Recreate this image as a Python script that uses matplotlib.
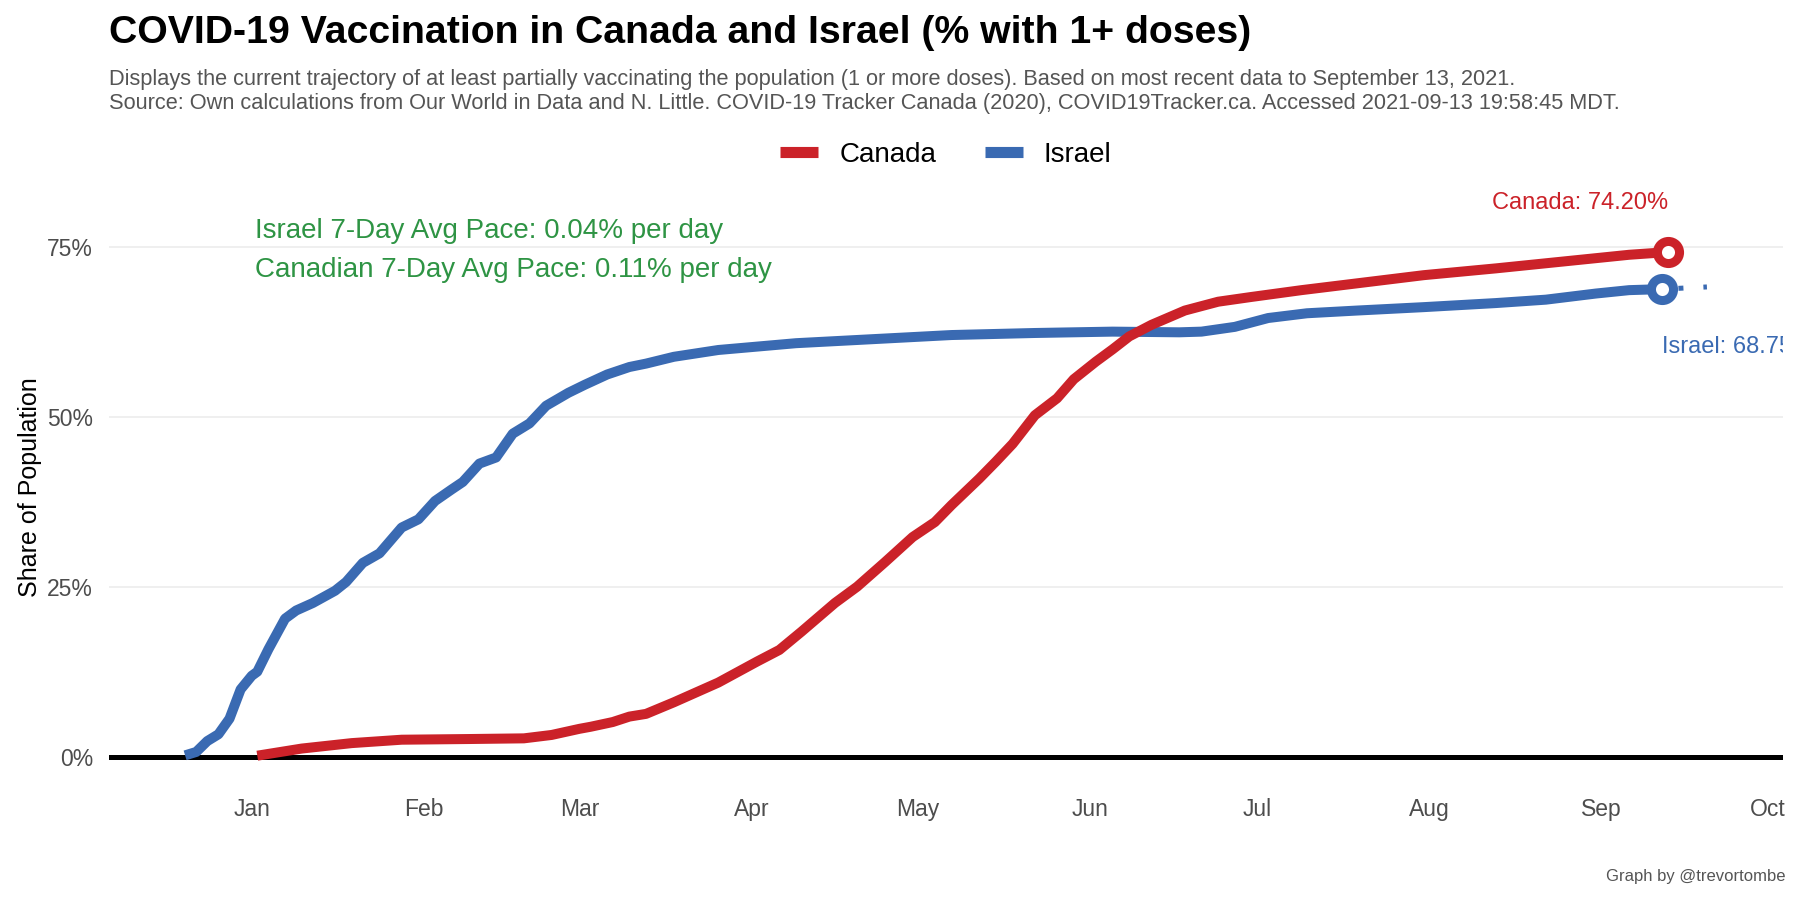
import matplotlib
matplotlib.use('Agg')
import matplotlib.pyplot as plt
import matplotlib.dates as mdates
import matplotlib.ticker as mticker
import numpy as np
from matplotlib.lines import Line2D

plt.rcParams['font.family'] = ['Liberation Sans', 'DejaVu Sans']
plt.rcParams['lines.scale_dashes'] = False

RED = '#CB2229'
BLUE = '#3A6AB2'
GREEN = '#2E9444'

# share of population with 1+ doses (%)
israel_dates = ['2020-12-20', '2020-12-22', '2020-12-24', '2020-12-26', '2020-12-28', '2020-12-30',
                '2021-01-01', '2021-01-02', '2021-01-04', '2021-01-07', '2021-01-09', '2021-01-12',
                '2021-01-16', '2021-01-18', '2021-01-21', '2021-01-24', '2021-01-28', '2021-01-31',
                '2021-02-03', '2021-02-06', '2021-02-08', '2021-02-11', '2021-02-14', '2021-02-17',
                '2021-02-20', '2021-02-23', '2021-02-27', '2021-03-02', '2021-03-06', '2021-03-10',
                '2021-03-13', '2021-03-18', '2021-03-26', '2021-04-09', '2021-04-23', '2021-05-07',
                '2021-05-22', '2021-06-05', '2021-06-17', '2021-06-21', '2021-06-27', '2021-07-03',
                '2021-07-10', '2021-07-19', '2021-07-31', '2021-08-13', '2021-08-22', '2021-08-31',
                '2021-09-06', '2021-09-12']
israel_vals = [0.2, 0.7, 2.3, 3.3, 5.6, 9.9,
               11.9, 12.5, 15.8, 20.3, 21.5, 22.6,
               24.4, 25.7, 28.5, 29.9, 33.7, 34.9,
               37.6, 39.3, 40.4, 43.1, 44.0, 47.5,
               49.0, 51.6, 53.5, 54.7, 56.2, 57.3,
               57.8, 58.8, 59.8, 60.8, 61.4, 62.0,
               62.3, 62.5, 62.4, 62.5, 63.2, 64.5,
               65.2, 65.6, 66.1, 66.7, 67.2, 68.1,
               68.6, 68.75]

canada_dates = ['2021-01-02', '2021-01-10', '2021-01-19', '2021-01-28', '2021-02-09', '2021-02-19',
                '2021-02-24', '2021-03-01', '2021-03-03', '2021-03-07', '2021-03-10', '2021-03-13',
                '2021-03-18', '2021-03-26', '2021-04-02', '2021-04-06', '2021-04-10', '2021-04-16',
                '2021-04-20', '2021-04-25', '2021-04-30', '2021-05-04', '2021-05-07', '2021-05-12',
                '2021-05-15', '2021-05-18', '2021-05-22', '2021-05-26', '2021-05-29', '2021-06-02',
                '2021-06-05', '2021-06-08', '2021-06-12', '2021-06-18', '2021-06-24', '2021-06-30',
                '2021-07-09', '2021-07-19', '2021-07-31', '2021-08-13', '2021-08-25', '2021-09-06',
                '2021-09-13']
canada_vals = [0.15, 1.2, 2.0, 2.5, 2.6, 2.7,
               3.2, 4.1, 4.4, 5.1, 5.9, 6.3,
               8.0, 10.9, 14.0, 15.7, 18.4, 22.6,
               25.0, 28.6, 32.3, 34.5, 37.0, 40.9,
               43.4, 46.0, 50.2, 52.7, 55.5, 58.1,
               59.9, 61.8, 63.5, 65.6, 66.9, 67.6,
               68.6, 69.6, 70.8, 71.8, 72.8, 73.8,
               74.2]

# Israel projected at its 7-day pace (0.04%/day)
israel_proj_dates = ['2021-09-12', '2021-09-20']
israel_proj_vals = [68.75, 69.07]

israel_pace = 0.04
canada_pace = 0.11

isr_d = np.array(israel_dates, dtype='datetime64[D]')
can_d = np.array(canada_dates, dtype='datetime64[D]')
proj_d = np.array(israel_proj_dates, dtype='datetime64[D]')

fig = plt.figure(figsize=(18, 9), dpi=100)
ax = fig.add_axes([109 / 1800, 1 - 784.6 / 900, (1783 - 109) / 1800, (784.6 - 182) / 900])

ax.axhline(0, color='black', lw=3.6, zorder=1.5)

ax.plot(proj_d, israel_proj_vals, color=BLUE, lw=3.6, linestyle=(6.5, (3.6, 14.4)), zorder=2)
ax.plot(isr_d, israel_vals, color=BLUE, lw=7.2, solid_capstyle='butt', zorder=3)
ax.plot(can_d, canada_vals, color=RED, lw=7.2, solid_capstyle='butt', zorder=3.2)

ax.plot(isr_d[-1], israel_vals[-1], 'o', ms=15.9, mew=6.5, mfc='white', mec=BLUE, zorder=4)
ax.plot(can_d[-1], canada_vals[-1], 'o', ms=15.9, mew=6.5, mfc='white', mec=RED, zorder=4.2)

ax.text(can_d[-1], canada_vals[-1] + 6.4, 'Canada: %.2f%%' % canada_vals[-1], ha='right',
        va='baseline', color=RED, fontsize=17, clip_on=True)
ax.text(isr_d[-1], israel_vals[-1] - 9.45, 'Israel: %.2f%%' % israel_vals[-1], ha='left',
        va='baseline', color=BLUE, fontsize=17, clip_on=True)

ax.text(np.datetime64('2021-01-01T12'), 76.2, 'Israel 7-Day Avg Pace: %.2f%% per day' % israel_pace,
        ha='left', va='baseline', color=GREEN, fontsize=20)
ax.text(np.datetime64('2021-01-01T12'), 70.5, 'Canadian 7-Day Avg Pace: %.2f%% per day' % canada_pace,
        ha='left', va='baseline', color=GREEN, fontsize=20)

# axes limits with ggplot-like 5% expansion on x
lo = mdates.date2num(isr_d[0])
hi = mdates.date2num(proj_d[-1])
span = hi - lo
ax.set_xlim(lo - 0.05 * span, hi + 0.05 * span)
ax.set_ylim(-4.1, 84.5)

ax.xaxis.set_major_locator(mdates.MonthLocator())
ax.xaxis.set_major_formatter(mdates.DateFormatter('%b'))
ax.set_yticks([0, 25, 50, 75])
ax.yaxis.set_major_formatter(mticker.FuncFormatter(lambda v, p: '%d%%' % v))
ax.tick_params(axis='both', length=0, labelsize=16.5, labelcolor='#4D4D4D')
ax.tick_params(axis='x', pad=9.6)
ax.tick_params(axis='y', pad=11.5)

ax.yaxis.grid(True, color='#EBEBEB', lw=1.1)
ax.xaxis.grid(False)
ax.set_axisbelow(True)
for s in ax.spines.values():
    s.set_visible(False)

handles = [Line2D([], [], color=RED, lw=8, solid_capstyle='butt'),
           Line2D([], [], color=BLUE, lw=8, solid_capstyle='butt')]
fig.legend(handles, ['Canada', 'Israel'], loc='center', bbox_to_anchor=(946 / 1800, 1 - 155 / 900),
           ncol=2, frameon=False, fontsize=20, handlelength=1.37, handletextpad=0.75,
           columnspacing=1.76)

fig.text(109 / 1800, 1 - 43 / 900, 'COVID-19 Vaccination in Canada and Israel (% with 1+ doses)',
         fontsize=28.3, fontweight='bold', va='baseline')
fig.text(109 / 1800, 1 - 85 / 900,
         'Displays the current trajectory of at least partially vaccinating the population (1 or more doses). '
         'Based on most recent data to September 13, 2021.',
         fontsize=15.7, color='#555555', va='baseline')
fig.text(109 / 1800, 1 - 109 / 900,
         'Source: Own calculations from Our World in Data and N. Little. COVID-19 Tracker Canada (2020), '
         'COVID19Tracker.ca. Accessed 2021-09-13 19:58:45 MDT.',
         fontsize=15.7, color='#555555', va='baseline')
fig.text(30 / 1800, 1 - 487 / 900, 'Share of Population', rotation=90, ha='center', va='center',
         fontsize=18)
fig.text(1785 / 1800, 1 - 877 / 900, 'Graph by @trevortombe', ha='right', va='center', fontsize=12,
         color='#555555')

fig.savefig('out.png', dpi=100)
